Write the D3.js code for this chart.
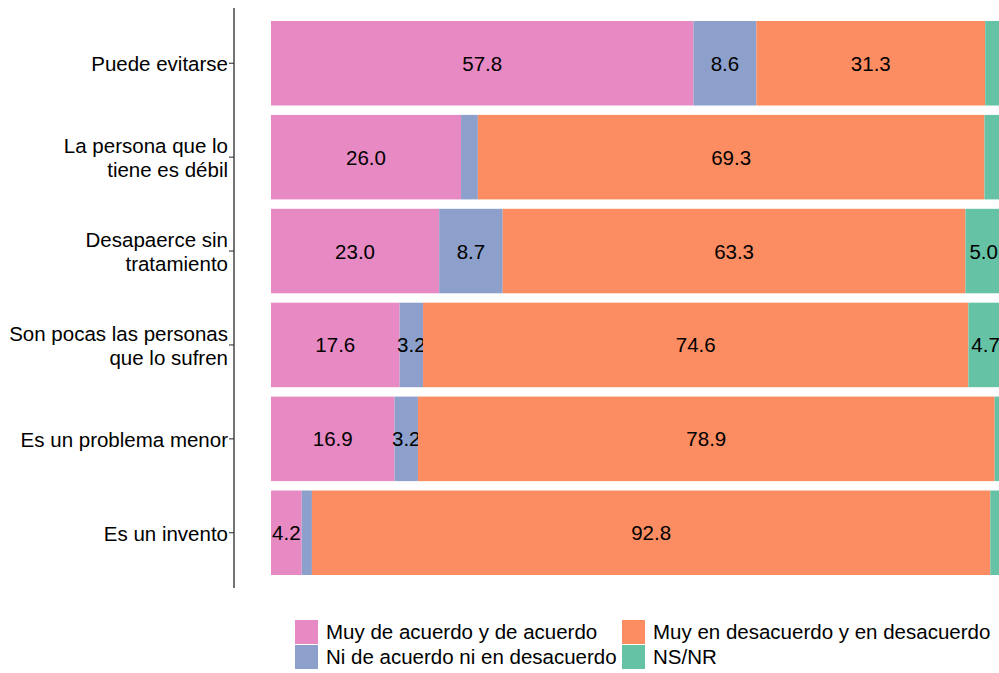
<!DOCTYPE html>
<html>
<head>
<meta charset="utf-8">
<script src="https://cdn.jsdelivr.net/npm/d3@7"></script>
<style>
  body { margin: 0; background: #fff; }
  text { font-family: "Liberation Sans", Arial, sans-serif; }
</style>
</head>
<body>
<script>
// Categories (top to bottom), each label split into lines
const categories = [
  ["Puede evitarse"],
  ["La persona que lo", "tiene es débil"],
  ["Desapaerce sin", "tratamiento"],
  ["Son pocas las personas", "que lo sufren"],
  ["Es un problema menor"],
  ["Es un invento"]
];

// Series names and values (percent)
const seriesNames = [
  "Muy de acuerdo y de acuerdo",
  "Ni de acuerdo ni en desacuerdo",
  "Muy en desacuerdo y en desacuerdo",
  "NS/NR"
];
const acuerdo    = [57.8, 26.0, 23.0, 17.6, 16.9, 4.2];
const neutral    = [8.6, 2.3, 8.7, 3.2, 3.2, 1.4];
const desacuerdo = [31.3, 69.3, 63.3, 74.6, 78.9, 92.8];
const nsnr       = [2.3, 2.4, 5.0, 4.7, 1.0, 1.6];

const colors = ["#E78AC3", "#8DA0CB", "#FC8D62", "#66C2A5"];

const width = 999, height = 673;
const fontSize = "20.5px";

const svg = d3.select("body").append("svg")
  .attr("width", width)
  .attr("height", height);

// Build table for the stack layout
const rows = categories.map((c, i) => ({
  key: c.join(" "),
  s0: acuerdo[i], s1: neutral[i], s2: desacuerdo[i], s3: nsnr[i]
}));
const stacked = d3.stack().keys(["s0", "s1", "s2", "s3"])(rows);

const x = d3.scaleLinear().domain([0, 100]).range([271, 1002]);
const y = d3.scaleBand()
  .domain(rows.map(d => d.key))
  .range([16.3, 579.7])
  .paddingInner(0.1)
  .paddingOuter(0.05);

// Bars
const layers = svg.append("g").selectAll("g")
  .data(stacked)
  .join("g")
  .attr("fill", (d, i) => colors[i]);

layers.selectAll("rect")
  .data(d => d)
  .join("rect")
  .attr("x", d => x(d[0]))
  .attr("y", d => y(d.data.key))
  .attr("width", d => x(d[1]) - x(d[0]))
  .attr("height", y.bandwidth());

// Value labels (only for segments of at least 3%)
layers.selectAll("text")
  .data(d => d)
  .join("text")
  .filter(d => d[1] - d[0] >= 3)
  .attr("x", d => (x(d[0]) + x(d[1])) / 2)
  .attr("y", d => y(d.data.key) + y.bandwidth() / 2)
  .attr("text-anchor", "middle")
  .attr("dominant-baseline", "central")
  .attr("fill", "#000")
  .style("font-size", fontSize)
  .text(d => (d[1] - d[0]).toFixed(1));

// Left axis
const axisX = 234;
svg.append("line")
  .attr("x1", axisX).attr("x2", axisX)
  .attr("y1", 8).attr("y2", 588)
  .attr("stroke", "#000")
  .attr("stroke-width", 1.1);

const ticks = svg.append("g").selectAll("g")
  .data(categories)
  .join("g")
  .attr("transform", c => `translate(0,${y(c.join(" ")) + y.bandwidth() / 2})`);

ticks.append("line")
  .attr("x1", axisX - 5).attr("x2", axisX)
  .attr("stroke", "#333")
  .attr("stroke-width", 1.1);

ticks.append("text")
  .attr("text-anchor", "end")
  .attr("fill", "#000")
  .style("font-size", fontSize)
  .selectAll("tspan")
  .data(c => c.map((line, j) => ({ line, j, n: c.length })))
  .join("tspan")
  .attr("x", axisX - 6)
  .attr("y", d => (d.j - (d.n - 1) / 2) * 24 + 1)
  .attr("dy", "0.35em")
  .text(d => d.line);

// Legend
const legendPos = [[295, 620], [295, 645], [622, 620], [622, 645]];
const legend = svg.append("g").selectAll("g")
  .data(seriesNames)
  .join("g")
  .attr("transform", (d, i) => `translate(${legendPos[i][0]},${legendPos[i][1]})`);

legend.append("rect")
  .attr("width", 23)
  .attr("height", 24)
  .attr("fill", (d, i) => colors[i]);

legend.append("text")
  .attr("x", 31)
  .attr("y", 12)
  .attr("dy", "0.35em")
  .attr("fill", "#000")
  .style("font-size", fontSize)
  .text(d => d);
</script>
</body>
</html>
